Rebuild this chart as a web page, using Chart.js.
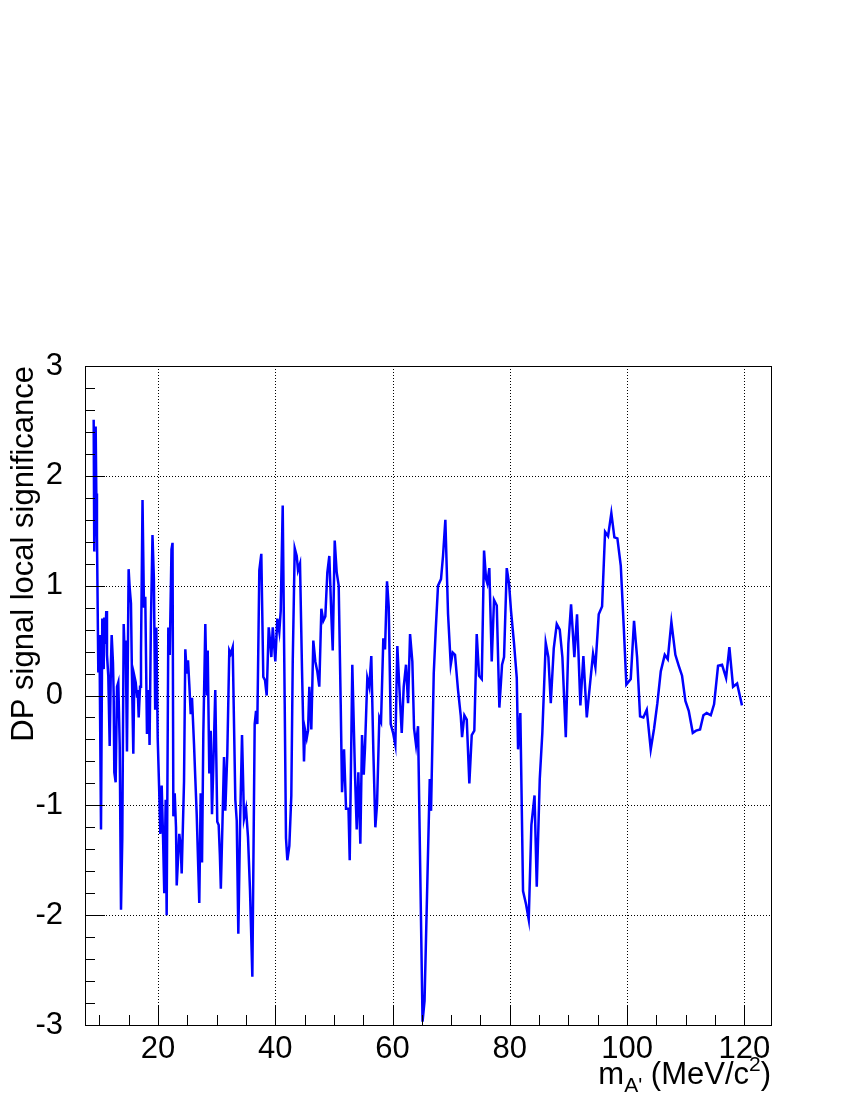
<!DOCTYPE html>
<html><head><meta charset="utf-8">
<script src="https://cdn.jsdelivr.net/npm/chart.js@4.4.1/dist/chart.umd.min.js"></script>
<style>html,body{margin:0;padding:0;background:#fff;}canvas{display:block;}</style>
</head><body>
<canvas id="c" width="850" height="1100"></canvas>
<script>
// A' mass (MeV/c^2)
const massValues = [
 9.03, 9.13, 9.37, 9.48, 9.59, 9.82, 9.94, 10.06, 10.28, 10.5,
 10.74, 10.84, 10.96, 11.18, 11.30, 11.52, 11.76, 11.98, 12.1, 12.32,
 12.44, 12.55, 12.78, 13.01, 13.23, 13.47, 13.69, 13.91, 14.15, 14.25,
 14.49, 14.71, 14.99, 15.17, 15.39, 15.56, 15.79, 15.96, 16.20, 16.42,
 16.54, 16.71, 16.94, 17.10, 17.36, 17.61, 17.83, 18.12, 18.39, 18.56,
 18.79, 19.06, 19.30, 19.52, 19.72, 19.95, 20.18, 20.40, 20.63, 20.86,
 21.07, 21.31, 21.48, 21.76, 22.00, 22.30, 22.48, 22.62, 22.85, 23.07,
 23.19, 23.63, 23.87, 24.04, 24.44, 24.66, 24.90, 25.12, 25.34, 25.58,
 25.80, 26.14, 26.36, 26.60, 27.04, 27.28, 27.51, 27.73, 28.07, 28.31,
 28.48, 28.75, 28.99, 29.21, 29.49, 29.77, 30.11, 30.35, 30.55, 30.72,
 31.00, 31.26, 31.48, 31.82, 32.16, 32.40, 32.74, 33.19, 33.43, 33.70,
 33.99, 34.33, 34.67, 35.01, 35.35, 35.69, 36.09, 36.49, 36.72, 36.94,
 37.28, 37.62, 37.96, 38.25, 38.54, 38.88, 39.16, 39.33, 39.57, 39.79, 40.01,
 40.35, 40.69, 40.93, 41.27, 41.61, 41.83, 42.06, 42.40, 42.74, 42.98,
 43.32, 43.66, 43.88, 44.22, 44.56, 44.90, 45.07, 45.36, 45.59, 45.81,
 46.15, 46.49, 46.83, 47.17, 47.51, 47.86, 48.20, 48.54, 48.88, 49.22,
 49.56, 49.80, 50.14, 50.48, 50.82, 51.16, 51.39, 51.73, 52.07, 52.49,
 52.70, 53.14, 53.60, 53.89, 54.17, 54.51, 54.80, 55.09, 55.31, 55.70,
 56.04, 56.38, 56.73, 57.07, 57.36, 57.75, 58.04, 58.43, 58.72, 59.06,
 59.35, 59.69, 60.09, 60.48, 60.82, 61.16, 61.57, 61.91, 62.30, 62.65,
 62.99, 63.38, 63.67, 64.01, 64.35, 65.12, 65.46, 66.35, 66.57, 67.03,
 67.37, 67.76, 68.27, 68.61, 69.01, 69.47, 69.93, 70.27, 70.66, 71.17,
 71.63, 71.86, 72.25, 72.66, 73.10, 73.51, 73.95, 74.36, 74.76, 75.22,
 75.61, 75.95, 76.17, 76.51, 76.92, 77.31, 77.78, 78.22, 78.68, 79.02,
 79.48, 79.87, 80.21, 80.73, 81.19, 81.41, 81.80, 82.26, 82.77, 83.23,
 83.68, 84.22, 84.60, 85.11, 85.55, 86.13, 86.58, 86.99, 87.50, 88.01,
 88.52, 88.97, 89.55, 89.99, 90.45, 91.01, 91.47, 92.04, 92.55, 93.13,
 93.64, 94.20, 94.60, 95.17, 95.74, 96.25, 96.76, 97.32, 97.84, 98.35,
 98.93, 99.44, 99.88, 100.63, 101.19, 101.71, 102.22, 102.78, 103.36, 104.04,
 104.61, 105.17, 105.75, 106.43, 106.94, 107.56, 108.24, 108.82, 109.38, 109.95,
 110.52, 111.21, 111.77, 112.45, 113.02, 113.59, 114.28, 114.84, 115.52, 116.20,
 116.89, 117.45, 118.08, 118.77, 119.6
];
// DP signal local significance
const significance = [
 2.51, 1.31, 2.45, 1.84, 1.46, 0.21, 0.55, 0.24, -1.22, 0.7,
 0.24, 0.71, 0.47, 0.77, 0.37, 0.18, -0.46, 0.31, 0.55, 0.3,
 0.01, -0.7, -0.79, 0.08, 0.12, -0.45, -1.95, -1.3, 0.65, 0.49,
 0.49, -0.51, 1.15, 0.98, 0.84, 0.18, -0.53, 0.18, 0.12, -0.01,
 0.05, -0.2, 0.08, 0.39, 1.78, 0.8, 0.9, -0.35, 0.05, -0.45,
 0.65, 1.46, 1.06, -0.13, 0.62, -0.39, -0.82, -1.26, -0.82, -1.29,
 -1.8, -0.95, -2.0, 0.62, 0.37, 1.33, 1.39, -1.1, -0.89, -1.2,
 -1.73, -1.26, -1.37, -1.62, -0.78, 0.42, 0.2, 0.32, 0.1, -0.17,
 -0.02, -0.44, -0.75, -1.08, -1.89, -0.89, -1.52, -0.35, 0.65, 0.0,
 0.41, -0.71, -0.32, -1.08, -0.53, 0.05, -1.15, -1.18, -1.45, -1.76,
 -1.15, -0.56, -1.05, -0.53, 0.41, 0.38, 0.44, -0.95, -1.14, -2.17,
 -1.2, -0.36, -1.12, -1.03, -1.29, -1.77, -2.56, -0.26, -0.14, -0.26,
 1.14, 1.29, 0.17, 0.14, 0.0, 0.62, 0.47, 0.35, 0.62, 0.47, 0.31,
 0.7, 0.58, 0.77, 1.73, -0.07, -1.3, -1.5, -1.37, -0.91, 0.31,
 1.34, 1.27, 1.14, 1.2, 0.24, -0.6, -0.31, -0.39, -0.32, 0.08,
 -0.31, 0.5, 0.31, 0.22, 0.08, 0.79, 0.68, 0.72, 1.12, 1.27,
 0.74, 0.41, 1.41, 1.12, 1.0, -0.07, -0.88, -0.49, -1.03, -1.03,
 -1.5, 0.28, -0.72, -1.22, -0.7, -1.35, -0.36, -0.72, -0.47, 0.16,
 0.08, 0.36, -0.51, -1.2, -0.99, -0.2, -0.24, 0.52, 0.42, 1.04,
 0.81, -0.26, -0.34, -0.45, 0.45, 0.08, -0.34, 0.08, 0.28, -0.07,
 0.56, 0.31, -0.3, -0.45, -0.28, -2.97, -2.78, -0.76, -1.05, 0.2,
 0.6, 1.0, 1.06, 1.27, 1.6, 0.74, 0.28, 0.39, 0.37, 0.05,
 -0.18, -0.38, -0.18, -0.22, -0.8, -0.36, -0.32, 0.56, 0.18, 0.15,
 1.32, 1.06, 1.02, 1.16, 0.31, 0.87, 0.82, -0.11, 0.28, 0.35,
 1.16, 1.02, 0.77, 0.47, 0.16, -0.49, -0.16, -1.78, -1.9, -2.04,
 -1.18, -0.91, -1.74, -0.76, -0.34, 0.48, 0.35, -0.07, 0.43, 0.65,
 0.6, 0.35, -0.38, 0.47, 0.83, 0.35, 0.74, -0.09, 0.36, -0.2,
 0.08, 0.38, 0.26, 0.74, 0.81, 1.49, 1.45, 1.66, 1.44, 1.43,
 1.18, 0.62, 0.1, 0.15, 0.68, 0.35, -0.19, -0.2, -0.13, -0.49,
 -0.3, -0.07, 0.22, 0.37, 0.33, 0.67, 0.37, 0.27, 0.18, -0.05,
 -0.14, -0.34, -0.32, -0.31, -0.18, -0.16, -0.18, -0.08, 0.27, 0.28,
 0.16, 0.44, 0.08, 0.11, -0.09
];
const xTickValues = [20, 40, 60, 80, 100, 120];
const yTickValues = [-3, -2, -1, 0, 1, 2, 3];
const xRange = [7.55, 124.55];
const yRange = [-3, 3];
const yTitle = 'DP signal local significance';

const FONT = '"Liberation Sans", Arial, Helvetica, sans-serif';

function minorTicks(lo, hi, step) {
  const out = [];
  const n = Math.round((hi - lo) / step);
  for (let i = 0; i <= n; i++) out.push(+(lo + i * step).toFixed(6));
  return out;
}

const frameAndGrid = {
  id: 'frameAndGrid',
  beforeDatasetsDraw(chart) {
    const {ctx, chartArea: a, scales: {x, y}} = chart;
    ctx.save();
    ctx.strokeStyle = '#000';
    ctx.lineWidth = 1;
    ctx.setLineDash([1, 2]);
    xTickValues.forEach(v => {
      const px = Math.round(x.getPixelForValue(v)) + 0.5;
      ctx.beginPath(); ctx.moveTo(px, a.top); ctx.lineTo(px, a.bottom); ctx.stroke();
    });
    yTickValues.forEach(v => {
      if (v <= yRange[0] || v >= yRange[1]) return;
      const py = Math.round(y.getPixelForValue(v)) + 0.5;
      ctx.beginPath(); ctx.moveTo(a.left, py); ctx.lineTo(a.right, py); ctx.stroke();
    });
    ctx.restore();
  },
  afterDatasetsDraw(chart) {
    const {ctx, chartArea: a, scales: {x, y}} = chart;
    ctx.save();
    ctx.strokeStyle = '#000';
    ctx.lineWidth = 1;
    ctx.setLineDash([]);
    minorTicks(10, 120, 5).forEach(v => {
      if (v < xRange[0] || v > xRange[1]) return;
      const major = xTickValues.includes(v);
      const px = Math.round(x.getPixelForValue(v)) + 0.5;
      ctx.beginPath(); ctx.moveTo(px, a.bottom); ctx.lineTo(px, a.bottom - (major ? 19 : 10)); ctx.stroke();
    });
    minorTicks(-3, 3, 0.2).forEach(v => {
      const major = Math.abs(v - Math.round(v)) < 1e-6;
      const py = Math.round(y.getPixelForValue(v)) + 0.5;
      ctx.beginPath(); ctx.moveTo(a.left, py); ctx.lineTo(a.left + (major ? 20 : 10), py); ctx.stroke();
    });
    ctx.strokeRect(Math.round(a.left) + 0.5, Math.round(a.top) + 0.5,
                   Math.round(a.right - a.left), Math.round(a.bottom - a.top));
    ctx.fillStyle = '#000';
    ctx.font = '31px ' + FONT;
    ctx.translate(33, a.top);
    ctx.rotate(-Math.PI / 2);
    ctx.textAlign = 'right';
    ctx.textBaseline = 'alphabetic';
    ctx.fillText(yTitle, 0, 0);
    ctx.restore();

    ctx.save();
    ctx.fillStyle = '#000';
    ctx.textBaseline = 'alphabetic';
    ctx.textAlign = 'left';
    const big = '31px ' + FONT, small = '21px ' + FONT;
    const parts = [
      {t: 'm', f: big, dy: 0},
      {t: "A'", f: small, dy: 8},
      {t: ' (MeV/c', f: big, dy: 0},
      {t: '2', f: small, dy: -13},
      {t: ')', f: big, dy: 0}
    ];
    let w = 0;
    parts.forEach(p => { ctx.font = p.f; w += ctx.measureText(p.t).width; });
    let cx = a.right - w;
    const base = 1084;
    parts.forEach(p => { ctx.font = p.f; ctx.fillText(p.t, cx, base + p.dy); cx += ctx.measureText(p.t).width; });
    ctx.restore();
  }
};

new Chart(document.getElementById('c'), {
  type: 'line',
  data: {
    datasets: [{
      data: massValues.map((m, i) => ({x: m, y: significance[i]})),
      borderColor: '#0000ff',
      borderWidth: 2.5,
      pointRadius: 0,
      tension: 0,
      fill: false
    }]
  },
  options: {
    responsive: false,
    animation: false,
    devicePixelRatio: 1,
    layout: {padding: {left: 0, top: 366, right: 79, bottom: 0}},
    plugins: {legend: {display: false}, tooltip: {enabled: false}},
    scales: {
      x: {
        type: 'linear', min: xRange[0], max: xRange[1],
        afterBuildTicks: s => { s.ticks = xTickValues.map(v => ({value: v})); },
        afterFit: s => { s.height = 75; },
        grid: {display: false, drawTicks: false},
        border: {display: false},
        ticks: {color: '#000', font: {family: FONT, size: 31}, padding: 6, maxRotation: 0, autoSkip: false}
      },
      y: {
        type: 'linear', min: yRange[0], max: yRange[1],
        afterBuildTicks: s => { s.ticks = yTickValues.map(v => ({value: v})); },
        afterFit: s => { s.width = 85; },
        grid: {display: false, drawTicks: false},
        border: {display: false},
        ticks: {color: '#000', font: {family: FONT, size: 31}, padding: 22, autoSkip: false}
      }
    }
  },
  plugins: [frameAndGrid]
});
</script>
</body></html>
